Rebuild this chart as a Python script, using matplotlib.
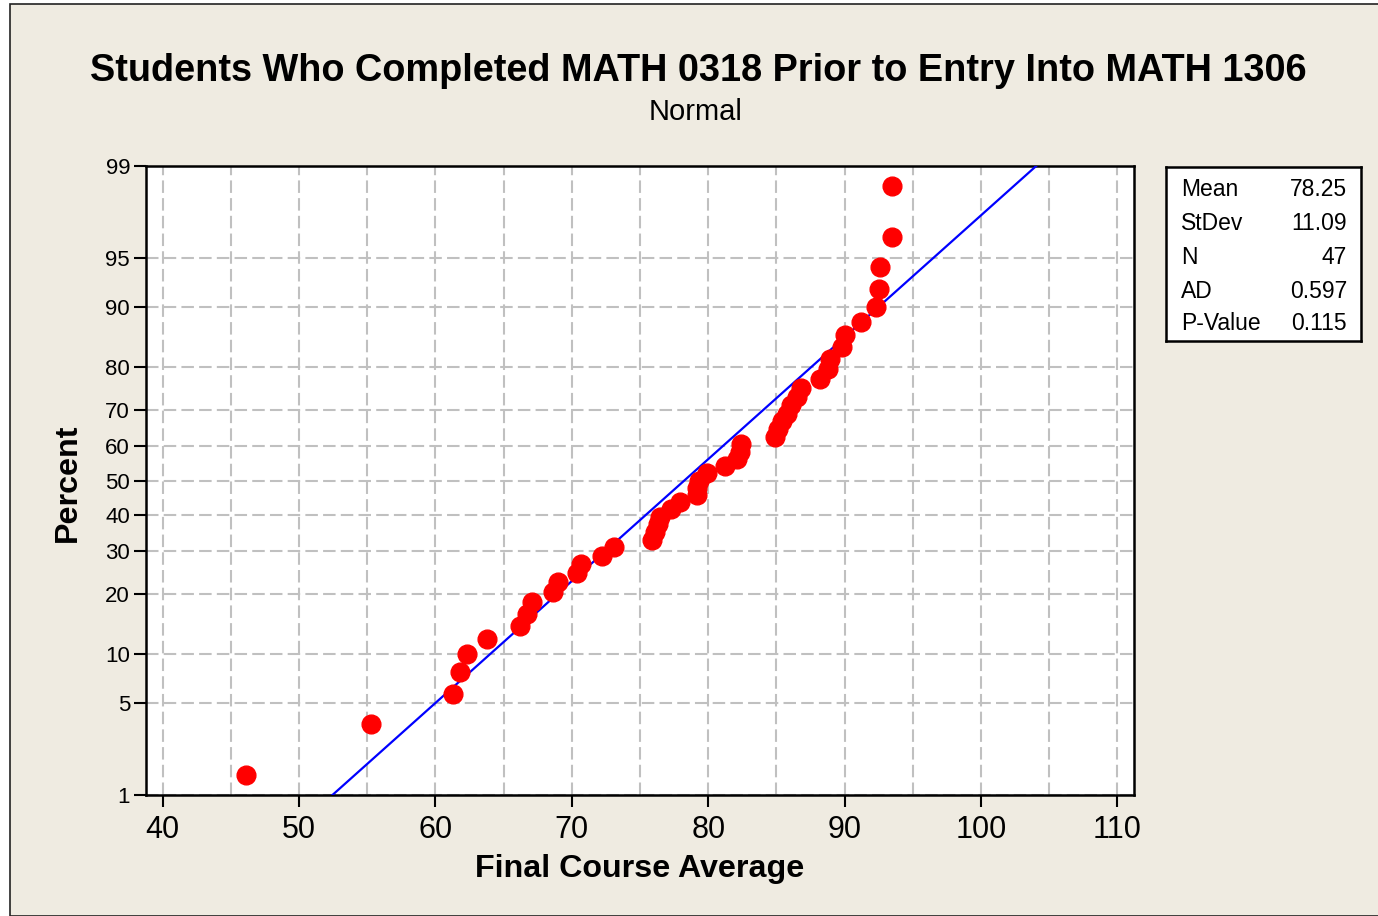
import numpy as np
import matplotlib
matplotlib.use("Agg")
import matplotlib.pyplot as plt
from matplotlib.patches import Rectangle
from statistics import NormalDist

# ---------------- data ----------------
scores = [46.1, 55.3, 61.3, 61.8, 62.3, 63.8, 66.2, 66.7, 67.1, 68.6,
          69.0, 70.4, 70.7, 72.2, 73.1, 75.9, 76.1, 76.3, 76.5, 77.3,
          77.9, 79.2, 79.2, 79.3, 79.9, 81.2, 82.1, 82.3, 82.4, 84.9,
          85.1, 85.4, 85.8, 86.1, 86.5, 86.8, 88.2, 88.8, 88.9, 89.8,
          90.0, 91.2, 92.3, 92.5, 92.6, 93.5, 93.5]
mean_val = 78.25
stdev_val = 11.09
n_val = 47
ad_val = 0.597
p_val = 0.115
stat_labels = ["Mean", "StDev", "N", "AD", "P-Value"]
stat_values = ["78.25", "11.09", "47", "0.597", "0.115"]
y_ticks = [1, 5, 10, 20, 30, 40, 50, 60, 70, 80, 90, 95, 99]
x_ticks = [40, 50, 60, 70, 80, 90, 100, 110]
fit_percent = [1, 99]

# median-rank plotting positions (Minitab default)
xs = np.sort(np.array(scores))
ranks = np.arange(1, len(xs) + 1)
pct = (ranks - 0.3) / (len(xs) + 0.4) * 100

nd = NormalDist()
_inv = np.vectorize(lambda p: nd.inv_cdf(min(max(p, 1e-9), 100 - 1e-9) / 100.0),
                    otypes=[float])
_cdf = np.vectorize(lambda z: nd.cdf(z) * 100.0, otypes=[float])

def fwd(p):
    return _inv(np.asarray(p, dtype=float))

def inv(z):
    return _cdf(np.asarray(z, dtype=float))

W, H = 1378, 916
fig = plt.figure(figsize=(W / 100, H / 100), dpi=100)
fig.patch.set_facecolor("white")
bg = "#EFEBE1"
fig.patches.append(Rectangle((10 / W, 0), 1 - 10 / W + 0.01, 1 - 4 / H,
                             transform=fig.transFigure, facecolor=bg,
                             edgecolor="#222222", linewidth=1.2, zorder=-10))

FONT = "Liberation Sans"

def fx(px):
    return px / W

def fy(py):
    return 1 - py / H

ax = fig.add_axes([fx(146), fy(795), fx(1134) - fx(146), fy(166) - fy(795)])
ax.set_facecolor("white")
ax.set_yscale("function", functions=(fwd, inv))
ax.set_ylim(1, 99)
ax.set_xlim(38.78, 111.22)

# grid
ax.set_xticks(x_ticks)
ax.set_xticks([45, 55, 65, 75, 85, 95, 105], minor=True)
ax.set_yticks(y_ticks)
ax.set_yticks([], minor=True)
ax.set_yticklabels([str(t) for t in y_ticks])
ax.set_xticklabels([str(t) for t in x_ticks])
ax.grid(True, which="both", color="#C0C0C0", linestyle=(0, (6, 2.5)), linewidth=1.5)
ax.set_axisbelow(True)
ax.tick_params(axis="x", which="minor", length=0)
ax.tick_params(axis="both", which="major", direction="out", length=8.5, width=1.5,
               color="black")
ax.tick_params(axis="x", which="major", labelsize=22, pad=6)
ax.tick_params(axis="y", which="major", labelsize=16, pad=3)
for lab in ax.get_xticklabels() + ax.get_yticklabels():
    lab.set_fontfamily(FONT)
for s in ax.spines.values():
    s.set_linewidth(1.8)
    s.set_color("black")

# fitted line
fit_x = [mean_val + stdev_val * nd.inv_cdf(p / 100) for p in fit_percent]
ax.plot(fit_x, fit_percent, color="#0000FF", linewidth=1.6, zorder=3)

# points
ax.plot(xs, pct, linestyle="none", marker="o", markersize=13.5,
        markerfacecolor="#FF0000", markeredgecolor="#FF0000", zorder=4,
        clip_on=False)

# titles
fig.text(fx(698), fy(71), "Students Who Completed MATH 0318 Prior to Entry Into MATH 1306",
         ha="center", va="center", fontsize=27.3, fontweight="bold", family=FONT)
fig.text(fx(696), fy(112), "Normal", ha="center", va="center", fontsize=21, family=FONT)
fig.text(fx(640), fy(869), "Final Course Average", ha="center", va="center",
         fontsize=23.2, fontweight="bold", family=FONT)
fig.text(fx(68), fy(483), "Percent", ha="center", va="center", rotation=90,
         fontsize=23.2, fontweight="bold", family=FONT)

# stats box
box = fig.add_axes([fx(1166), fy(341), fx(1361) - fx(1166), fy(167) - fy(341)])
box.set_xticks([])
box.set_yticks([])
box.set_xlim(0, 1)
box.set_ylim(0, 1)
box.set_facecolor("white")
for s in box.spines.values():
    s.set_linewidth(1.8)
    s.set_color("black")
row_y = [190, 224, 257, 291, 324]
for lab, val, ry in zip(stat_labels, stat_values, row_y):
    fig.text(fx(1181), fy(ry), lab, ha="left", va="center", fontsize=16.5, family=FONT)
    fig.text(fx(1347), fy(ry), val, ha="right", va="center", fontsize=16.5, family=FONT)

fig.savefig("out.png", dpi=100, facecolor=fig.get_facecolor())
